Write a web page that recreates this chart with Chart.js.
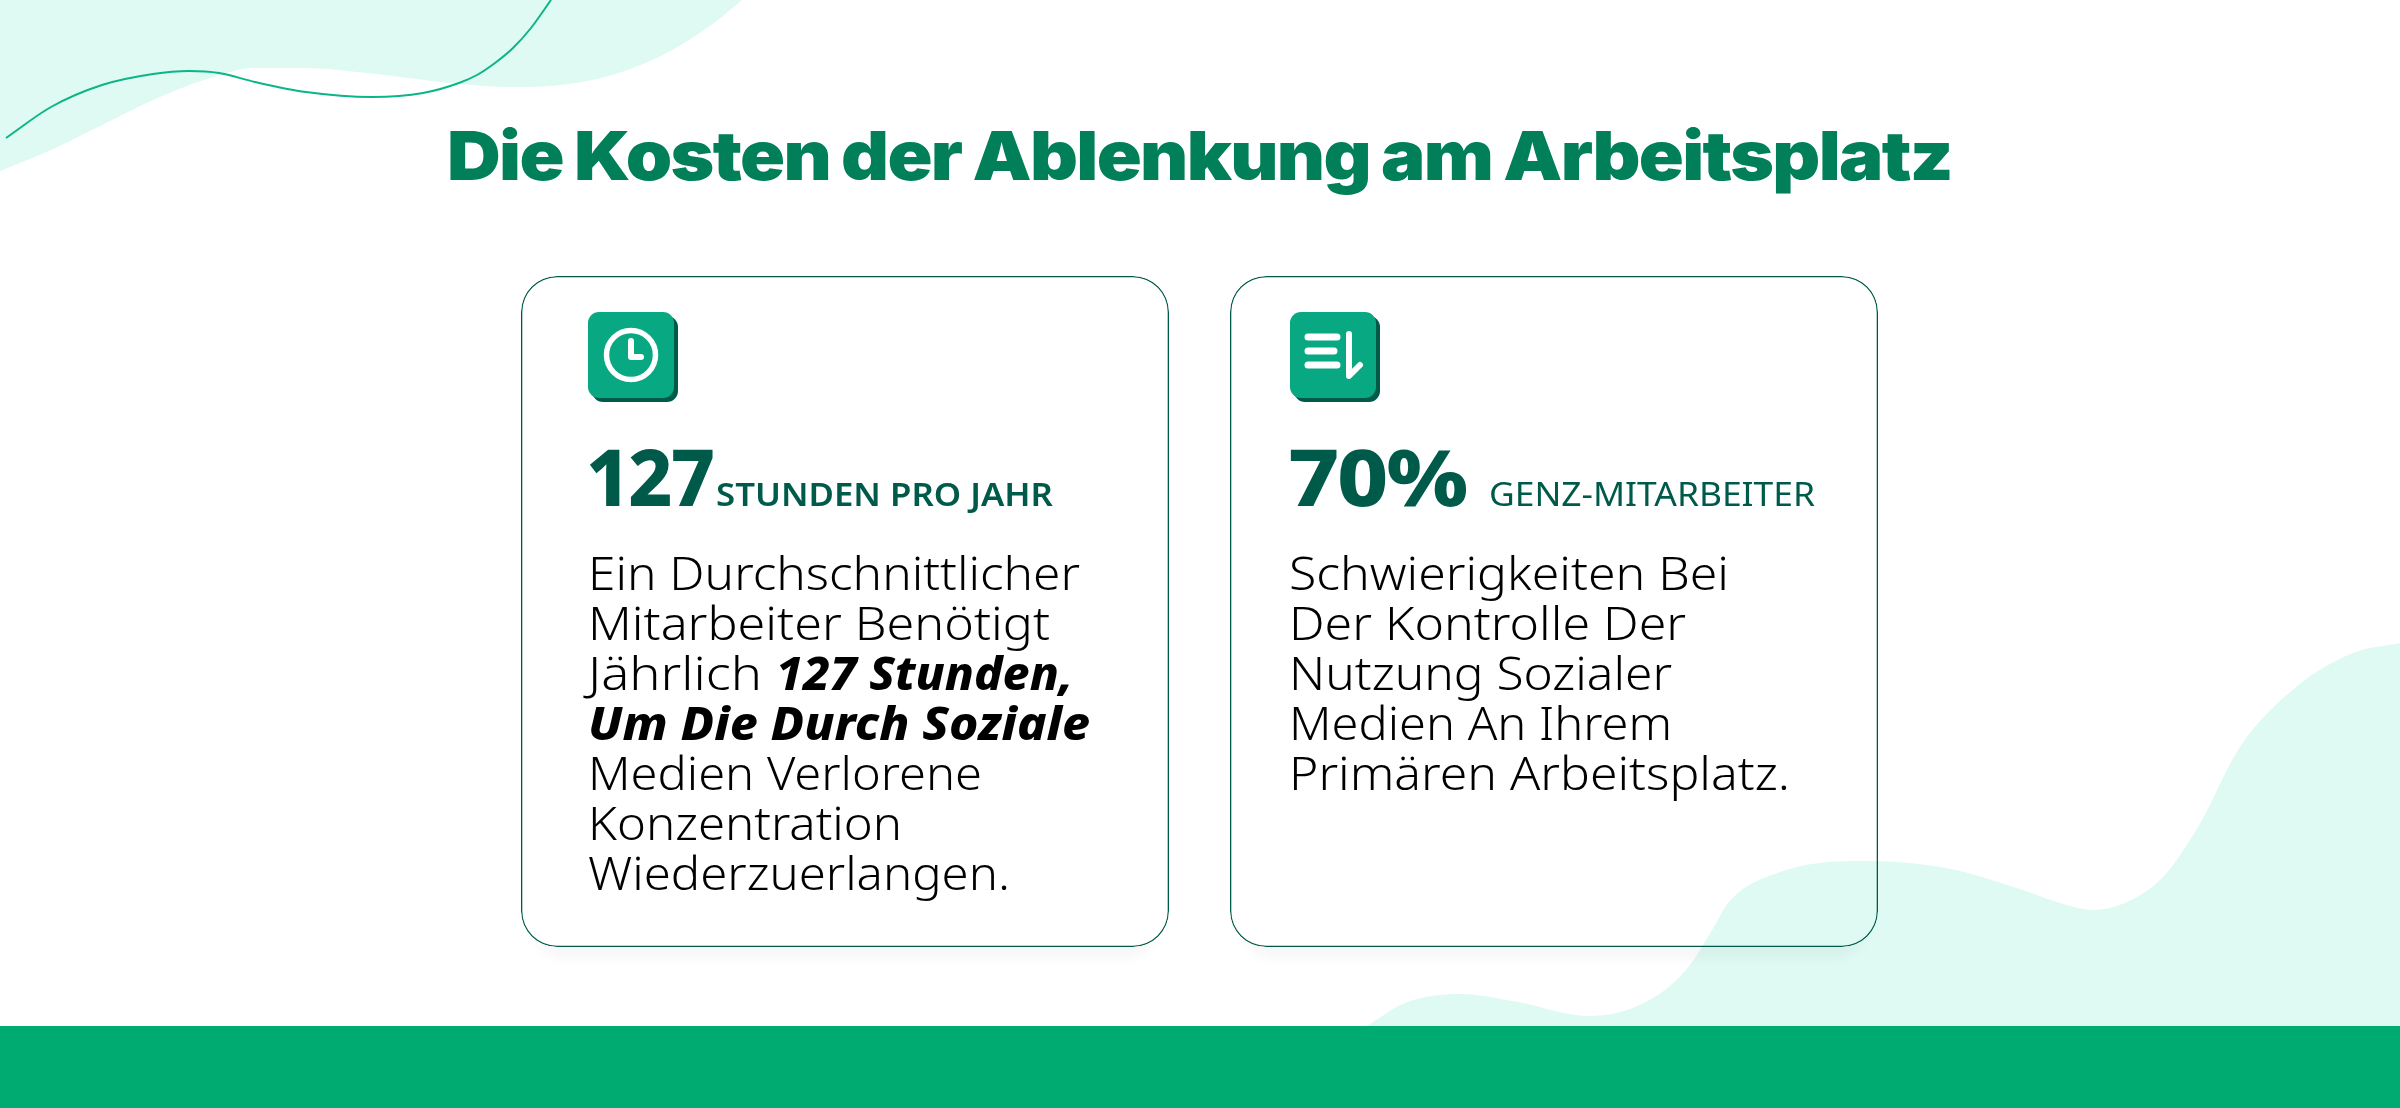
<!DOCTYPE html>
<html lang="de">
<head>
<meta charset="utf-8">
<title>Die Kosten der Ablenkung am Arbeitsplatz</title>
<script src="https://cdn.jsdelivr.net/npm/chart.js@4"></script>
<style>
html, body { margin: 0; padding: 0; background: #fff; }
#page { position: relative; width: 2400px; height: 1108px; overflow: hidden; }
#myChart { position: absolute; left: 0; top: 0; }
.t { position: absolute; white-space: pre; font-family: "Noto Sans", sans-serif; line-height: 1; transform-origin: left top; }
.icon { position: absolute; width: 86px; height: 86px; top: 312px; background: #07a882; border-radius: 11px; box-shadow: 4px 4px 0 #005a4a; }
.icon svg { position: absolute; left: 0; top: 0; }
</style>
</head>
<body>
<div id="page">
  <canvas id="myChart" width="2400" height="1108"></canvas>
  <div class="icon" style="left:588px">
    <svg width="86" height="86" fill="none" stroke="#fff" stroke-linecap="round" stroke-linejoin="round">
      <circle cx="43" cy="43" r="24.5" stroke-width="5.5"/>
      <path d="M43 29V45H53" stroke-width="6"/>
    </svg>
  </div>
  <div class="icon" style="left:1290px">
    <svg width="86" height="86" fill="none" stroke="#fff" stroke-linecap="round" stroke-linejoin="round">
      <path d="M18 25H47M18 39H44M18 53H47" stroke-width="7"/>
      <path d="M59 22V64L70 53" stroke-width="6"/>
    </svg>
  </div>
</div>
<script>
// Kennzahlen
const statValues = [127, 70];
const statUnits = ['', '%'];
const statLabels = ['STUNDEN PRO JAHR', 'GENZ-MITARBEITER'];
const titleText = 'Die Kosten der Ablenkung am Arbeitsplatz';

// Kartentexte
const card1Lines = ['Ein Durchschnittlicher', 'Mitarbeiter Benötigt', 'Jährlich', 'Um Die Durch Soziale', 'Medien Verlorene', 'Konzentration', 'Wiederzuerlangen.'];
const card1Bold = '127 Stunden,';
const card2Lines = ['Schwierigkeiten Bei', 'Der Kontrolle Der', 'Nutzung Sozialer', 'Medien An Ihrem', 'Primären Arbeitsplatz.'];

// Umrisse
const topBlobX = [0, 51, 102, 153, 204, 255, 306, 357, 408, 459, 510, 561, 612, 663, 714, 742];
const topBlobY = [171, 150, 125, 100, 80, 68, 68, 72, 78, 84, 87, 85, 75, 55, 23, 0];
const curveX = [6, 51, 102, 153, 189, 219, 255, 306, 372, 423, 459, 477, 495, 513, 531, 551];
const curveY = [138, 107, 85, 74, 71, 73, 82, 92, 97, 93, 83, 75, 63, 48, 28, 0];
const bottomBlobX = [1367, 1405, 1461, 1518, 1588, 1644, 1686, 1714, 1728, 1777, 1861, 1946, 2023, 2060, 2093, 2125, 2163, 2198, 2240, 2296, 2353, 2400];
const bottomBlobY = [1026, 1003, 994, 1002, 1016, 1003, 970, 927, 903, 873, 861, 868, 890, 903, 910, 903, 877, 827, 747, 687, 653, 643];

// Karten und Band
const cardCenters = [845, 1554];
const cardSpan = [276, 947];
const bandSpan = [1026, 1108];

function toPoints(xs, ys) {
    return xs.map((x, i) => ({ x: x, y: ys[i] }));
}

// Schatten nur ausserhalb der Karte
const cardShadow = {
    id: 'cardShadow',
    afterDatasetsDraw(chart) {
        const ctx = chart.ctx;
        chart.getDatasetMeta(4).data.forEach(bar => {
            const w = bar.width, h = Math.abs(bar.base - bar.y), x = bar.x - w / 2, y = Math.min(bar.y, bar.base);
            ctx.save();
            ctx.beginPath();
            ctx.rect(0, 0, 2400, 1108);
            ctx.roundRect(x, y, w, h, 36);
            ctx.clip('evenodd');
            ctx.shadowColor = 'rgba(0,0,0,0.035)';
            ctx.shadowBlur = 12;
            ctx.shadowOffsetY = 12;
            ctx.fillStyle = '#fff';
            ctx.beginPath();
            ctx.roundRect(x + 10, y + 10, w - 20, h - 10, 36);
            ctx.fill();
            ctx.restore();
        });
    }
};

const curveMode = 'monotone';

new Chart(document.getElementById('myChart'), {
    type: 'bar',
    plugins: [cardShadow],
    data: {
        datasets: [
            { type: 'line', data: toPoints(topBlobX, topBlobY), fill: 'end', backgroundColor: '#dffaf2', borderWidth: 0, pointRadius: 0, cubicInterpolationMode: curveMode, order: 5 },
            { type: 'line', data: toPoints(bottomBlobX, bottomBlobY), fill: 'start', backgroundColor: '#dffaf2', borderWidth: 0, pointRadius: 0, cubicInterpolationMode: curveMode, order: 5 },
            { type: 'line', data: toPoints(curveX, curveY), fill: false, borderColor: '#0cb587', borderWidth: 2, pointRadius: 0, cubicInterpolationMode: curveMode, order: 4 },
            { type: 'bar', data: [{ x: 1200, y: bandSpan }], backgroundColor: '#00ab72', barThickness: 2400, inflateAmount: 0, order: 3 },
            { type: 'bar', data: cardCenters.map(x => ({ x: x, y: cardSpan })), backgroundColor: 'rgba(255,255,255,0)', borderColor: '#005a4a', borderWidth: 1.3, borderSkipped: false, borderRadius: 36, barThickness: 648, inflateAmount: 0, order: 1 }
        ]
    },
    options: {
        responsive: false,
        animation: false,
        devicePixelRatio: 1,
        layout: { padding: 0 },
        datasets: { bar: { grouped: false } },
        plugins: { legend: { display: false }, tooltip: { enabled: false } },
        scales: {
            x: { type: 'linear', min: 0, max: 2400, offset: false, display: false },
            y: { type: 'linear', min: 0, max: 1108, reverse: true, display: false }
        }
    }
});

// Text auf Grundlinie setzen und auf die Breite im Bild strecken
function put(text, left, baseline, right, css) {
    const page = document.getElementById('page');
    const el = document.createElement('span');
    el.className = 't';
    el.textContent = text;
    el.style.cssText = css;
    el.style.left = left + 'px';
    el.style.top = '0px';
    const mark = document.createElement('i');
    mark.style.cssText = 'display:inline-block;width:0;height:0';
    el.appendChild(mark);
    page.appendChild(el);
    el.style.top = (baseline - mark.getBoundingClientRect().bottom) + 'px';
    el.style.transform = 'scaleX(' + (right - left) / el.getBoundingClientRect().width + ')';
    return el;
}

const bodyCss = 'font-size:46px;color:#000;font-weight:350;';
const boldCss = 'font-size:46px;color:#000;font-weight:800;font-style:italic;';
const bigCss = 'font-size:78px;color:#005a4a;font-weight:800;letter-spacing:-2px;';

document.fonts.ready.then(() => {
    put(titleText, 447, 180, 1952, 'font-family:Inter,sans-serif;font-size:68px;font-weight:900;letter-spacing:-1.5px;word-spacing:-2px;color:#007f58;');

    put(String(statValues[0]) + statUnits[0], 586, 506, 713, bigCss);
    put(statLabels[0], 716, 506, 1053, 'font-size:32px;font-weight:600;color:#005a4a;');
    put(String(statValues[1]) + statUnits[1], 1288, 506, 1466, bigCss);
    put(statLabels[1], 1489, 506, 1815, 'font-size:32px;font-weight:400;color:#005a4a;');

    const ends1 = [1080, 1050, 762, 1090, 982, 902, 1010];
    card1Lines.forEach((line, i) => {
        put(line, 588, 590 + i * 50, ends1[i], i === 3 ? boldCss : bodyCss);
    });
    put(card1Bold, 776, 690, 1073, boldCss);

    const ends2 = [1729, 1686, 1672, 1672, 1790];
    card2Lines.forEach((line, i) => {
        put(line, 1289, 590 + i * 50, ends2[i], bodyCss);
    });
});
</script>
</body>
</html>
